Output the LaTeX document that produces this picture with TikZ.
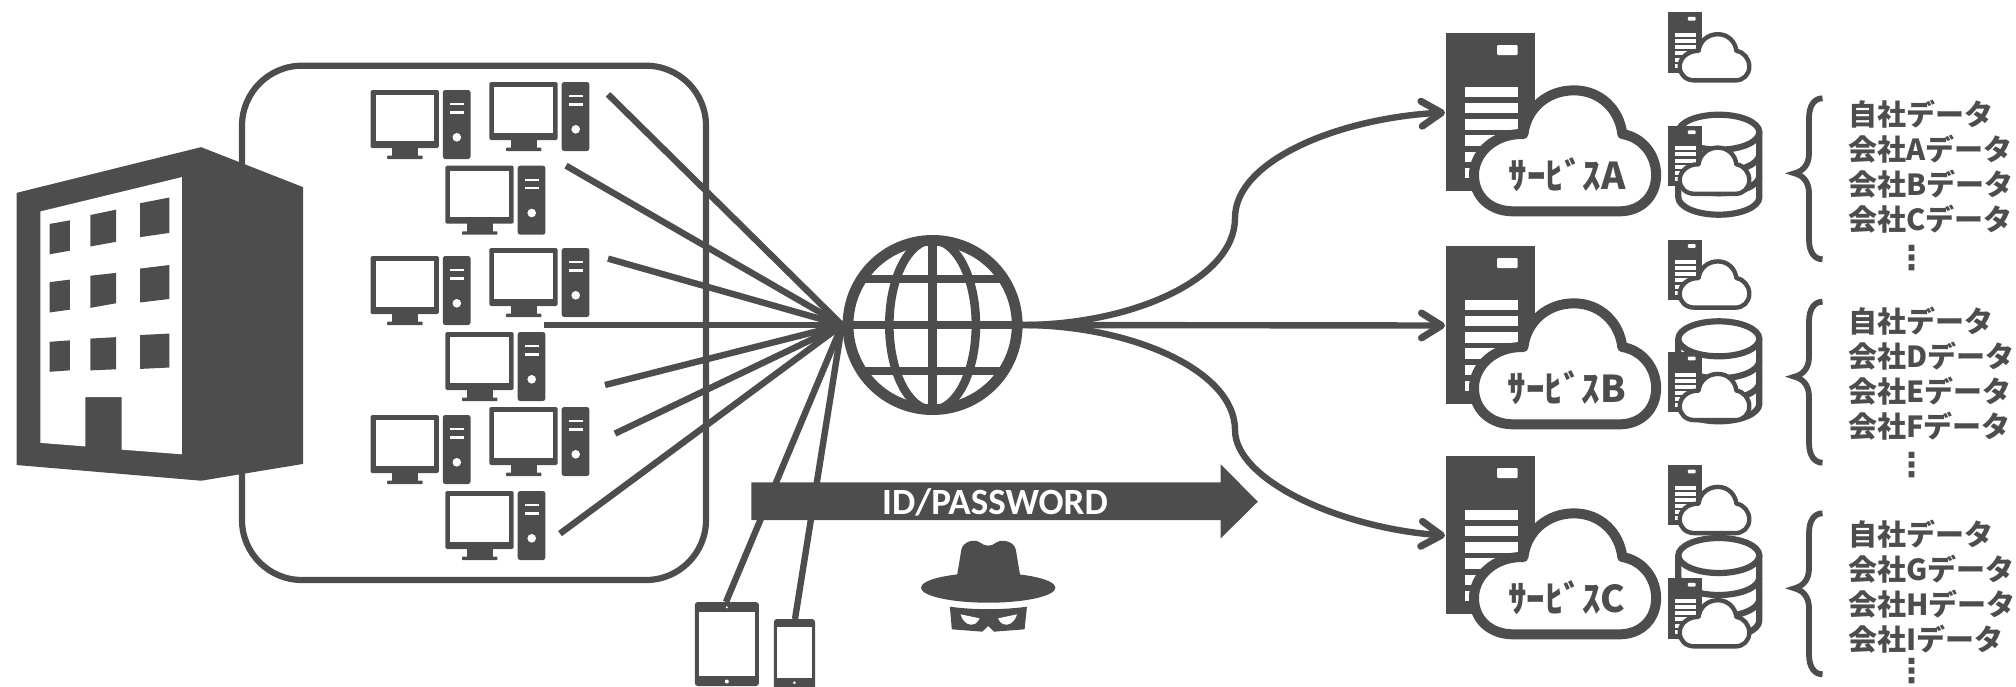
\documentclass[tikz,border=0pt]{standalone}
\usepackage{fontspec}
\usetikzlibrary{arrows.meta}
\newfontfamily\jpfont{Noto Sans CJK JP}
\newfontfamily\lcfont{Carlito}
\newfontfamily\symfont{DejaVu Sans}
\definecolor{ink}{HTML}{4D4D4D}
\tikzset{
  wire/.style={draw=ink,line width=6.4pt},
  link/.style={draw=ink,line width=6.4pt,-{Straight Barb[round,length=20pt,width=25pt,line width=7pt]}},
  computer/.pic={
    \fill[ink,rounded corners=1.5pt] (0,0) rectangle (68.3,58);
    \fill[white] (5,4.8) rectangle (63.3,51);
    \fill[ink] (21.7,57) rectangle (47.3,66);
    \fill[ink,rounded corners=.6pt] (16.7,65.7) rectangle (52,69);
    \fill[ink,rounded corners=2.5pt] (72.3,0) rectangle (100,69);
    \fill[white] (79.3,13) rectangle (93.3,15.3);
    \fill[white] (79.3,21.3) rectangle (93.3,23.7);
    \fill[white] (86.3,47.3) circle (4.3pt);
  },
  servershape/.pic={
    \fill[ink] (0,0) rectangle (89,158);
    \fill[white,rounded corners=1pt] (51,12) rectangle (71.7,22);
    \foreach \yy in {53.7,69.7,86,102,118.7,134.7}
      \fill[white] (18.5,\yy) rectangle (71.7,\yy+10.5);
  },
  cloudshape/.pic={
    \begin{scope}[shift={(-26,-33)},x=0.38023pt,y=-0.33333pt]
    \path[fill=white,draw=ink,line width=\cloudlw,line join=round]
      (245,634) .. controls (185,634) and (142,590) .. (142,525)
      .. controls (142,460) and (195,400) .. (272,402)
      .. controls (280,325) and (335,271) .. (405,271)
      .. controls (475,271) and (525,330) .. (532,402)
      .. controls (585,412) and (621,465) .. (621,525)
      .. controls (621,590) and (580,634) .. (525,634) -- cycle;
    \end{scope}
  },
  database/.pic={
    \draw[ink,line width=6.2pt] (0,0) ellipse [x radius=40.5pt,y radius=17.5pt];
    \draw[ink,line width=6.2pt] (-40.5,0) -- (-40.5,65) arc[start angle=180,end angle=360,x radius=40.5pt,y radius=17.5pt] -- (40.5,0);
    \draw[ink,line width=6.2pt] (-40.5,22) arc[start angle=180,end angle=360,x radius=40.5pt,y radius=17.5pt];
    \draw[ink,line width=6.2pt] (-40.5,43.5) arc[start angle=180,end angle=360,x radius=40.5pt,y radius=17.5pt];
  },
  databrace/.pic={
    \draw[ink,line width=5.8pt]
      (28,-75) .. controls (20,-75) and (14.5,-68) .. (14.5,-55) -- (14.5,-20)
      .. controls (14.5,-8) and (8,-2) .. (0,0)
      .. controls (8,2) and (14.5,8) .. (14.5,20) -- (14.5,66)
      .. controls (14.5,79) and (20,86) .. (28,86);
  },
  datatext/.style={text=ink,anchor=west,align=left,inner sep=0pt,font=\jpfont\bfseries\fontsize{29pt}{35pt}\selectfont},
  dots/.style={text=ink,inner sep=0pt,font=\symfont\bfseries\fontsize{33pt}{33pt}\selectfont},
  svctext/.style={text=ink,inner sep=0pt,font=\jpfont\bfseries\fontsize{37pt}{40pt}\selectfont},
}
\newcommand\cloudlw{10pt}
\begin{document}
\begin{tikzpicture}[x=1pt,y=-1pt]
\useasboundingbox (0,0) rectangle (2016,686);

% connection points
\coordinate (hub) at (842,325);
\coordinate (netout) at (1022,325);
\coordinate (pcA) at (608,94.3);
\coordinate (pcB) at (566,165.7);
\coordinate (pcC) at (608,258.6);
\coordinate (pcD) at (544,325);
\coordinate (pcE) at (605,385);
\coordinate (pcF) at (615,433.6);
\coordinate (pcG) at (560,533.6);
\coordinate (tablet) at (726,602);
\coordinate (phone) at (795,619);
\coordinate (inA) at (1445,112.5);
\coordinate (inB) at (1445,325.5);
\coordinate (inC) at (1445,535.5);

% office box
\draw[ink,line width=6.2pt,rounded corners=60pt] (242,65.7) rectangle (706,580);

% computers
\foreach \px/\py in {370.5/90,489.4/82,445.4/165.7,370.5/256,489.4/248,445.4/332,370.5/415,489.4/407,445.4/491}
  \pic at (\px,\py) {computer};

% wires
\foreach \src in {pcA,pcB,pcC,pcD,pcE,pcF,pcG,tablet,phone}
  \draw[wire] (\src) -- (hub);

% building
\begin{scope}[shift={(0,40)},x=0.45918pt,y=-0.35714pt]
\fill[ink] (36,428) -- (438,300) -- (660,412) -- (660,1187) -- (438,1234) -- (36,1190) -- cycle;
\fill[white] (88,480) -- (396,384) -- (396,1160) -- (265,1147) -- (265,1000) -- (186,1000) -- (186,1138) -- (88,1128) -- cycle;
\fill[ink] (108,515) -- (152,505) -- (152,590) -- (108,600) -- cycle;
\fill[ink] (197,490) -- (253,475) -- (253,565) -- (197,578) -- cycle;
\fill[ink] (305,457) -- (369,441) -- (369,540) -- (305,552) -- cycle;
\fill[ink] (108,678) -- (152,671) -- (152,755) -- (108,763) -- cycle;
\fill[ink] (197,660) -- (253,652) -- (253,737) -- (197,750) -- cycle;
\fill[ink] (305,640) -- (369,630) -- (369,725) -- (305,735) -- cycle;
\fill[ink] (108,845) -- (152,841) -- (152,925) -- (108,929) -- cycle;
\fill[ink] (197,836) -- (253,832) -- (253,922) -- (197,925) -- cycle;
\fill[ink] (305,826) -- (369,822) -- (369,917) -- (305,921) -- cycle;
\end{scope}

% globe
\begin{scope}[shift={(932.6,325)}]
\begin{scope}
\clip (0,0) circle (85pt);
\foreach \yy in {-46,0,46} \draw[ink,line width=8.6pt] (-90,\yy) -- (90,\yy);
\draw[ink,line width=8.6pt] (0,-90) -- (0,90);
\draw[ink,line width=8.6pt] (0,0) ellipse [x radius=43.3pt,y radius=85pt];
\end{scope}
\draw[ink,line width=10.8pt] (0,0) circle (84.6pt);
\end{scope}

% links to services
\draw[link] (netout) .. controls (1130,325) and (1235,280) .. (1235,218) .. controls (1235,160) and (1340,118) .. (inA);
\draw[link] (netout) -- (inB);
\draw[link] (netout) .. controls (1130,325) and (1235,370) .. (1235,430) .. controls (1235,480) and (1340,528) .. (inC);

% ID/PASSWORD arrow
\fill[ink] (751.3,482.3) -- (1220.7,482.3) -- (1220.7,464.3) -- (1257.8,501.7) -- (1220.7,538.3) -- (1220.7,520) -- (751.3,520) -- cycle;
\node[text=white,inner sep=0pt,font=\lcfont\bfseries\fontsize{37pt}{40pt}\selectfont] (pwlabel) at (995,502.5) {ID/PASSWORD};

% thief
\begin{scope}[shift={(660,220)},x=0.39541pt,y=-0.33333pt]
\fill[ink] (750,1075) -- (762,990) .. controls (765,965) and (795,955) .. (810,968) .. controls (822,980) and (838,980) .. (850,968) .. controls (865,955) and (897,965) .. (900,990) -- (912,1075) -- cycle;
\fill[ink] (733,1160) .. controls (790,1170) and (870,1170) .. (928,1160) -- (922,1228) -- (845,1235) -- (830,1218) -- (815,1235) -- (738,1228) -- cycle;
\fill[white] (760,1183) -- (808,1195) .. controls (800,1222) and (770,1222) .. (760,1183) -- cycle;
\fill[white] (903,1183) -- (855,1195) .. controls (863,1222) and (893,1222) .. (903,1183) -- cycle;
\end{scope}
\fill[ink] (988.2,587.7) ellipse [x radius=67.2pt,y radius=15pt];

% tablet and phone
\fill[ink,rounded corners=3pt] (694.8,602) rectangle (758.9,686);
\fill[white] (698.7,611.7) rectangle (754.9,676);
\fill[white] (726.8,607.3) circle (1.2pt);
\fill[white] (726.8,681.5) circle (2pt);
\fill[ink,rounded corners=3pt] (773.9,619) rectangle (815,692);
\fill[white] (777,627) rectangle (812.2,678);
\fill[white] (794.4,682.7) circle (1.5pt);

% databases
\pic at (1718.8,132.2) {database};
\pic at (1718.8,338.8) {database};
\pic at (1718.8,555.5) {database};

% small service icons
\renewcommand\cloudlw{4.4pt}
\foreach \yy in {12.3,125.7,239.5,352,465,578.3} {
  \pic[scale=0.382] at (1668.3,\yy) {servershape};
  \pic[scale=0.382] at (1669,\yy) {cloudshape};
}

% large service icons
\renewcommand\cloudlw{10pt}
\foreach \yy in {33,246,456} {
  \pic at (1446,\yy) {servershape};
  \pic at (1446,\yy) {cloudshape};
}
\node[svctext] (svcA) at (1567,174.5) {ｻｰﾋﾞｽA};
\node[svctext] (svcB) at (1567,388) {ｻｰﾋﾞｽB};
\node[svctext] (svcC) at (1567,598) {ｻｰﾋﾞｽC};

% braces
\pic at (1794.5,173.3) {databrace};
\pic at (1794.5,376.7) {databrace};
\pic at (1794.5,588.3) {databrace};

% data lists
\node[datatext] (dataA) at (1848,167) {自社データ\\会社Aデータ\\会社Bデータ\\会社Cデータ};
\node[datatext] (dataB) at (1848,373.5) {自社データ\\会社Dデータ\\会社Eデータ\\会社Fデータ};
\node[datatext] (dataC) at (1848,586.5) {自社データ\\会社Gデータ\\会社Hデータ\\会社Iデータ};
\node[dots] (moreA) at (1912,258.5) {⋮};
\node[dots] (moreB) at (1912,465) {⋮};
\node[dots,yshift=3pt] (moreC) at (1912,674) {⋮};
\end{tikzpicture}
\end{document}
